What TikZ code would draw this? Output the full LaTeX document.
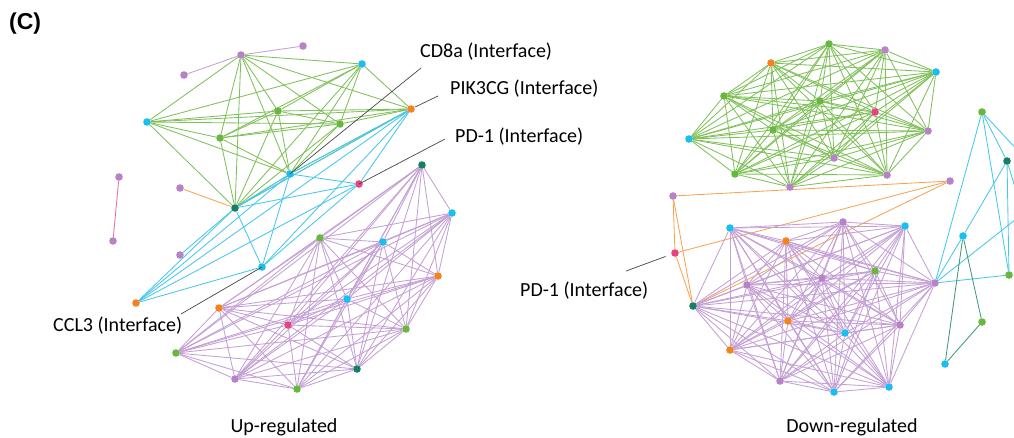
\documentclass[tikz,border=0pt]{standalone}
\usepackage{fontspec}
\setmainfont{Carlito}
\newfontfamily\labelfont{Liberation Sans}
\pgfdeclarelayer{edges}
\pgfsetlayers{edges,main}

\definecolor{npurple}{RGB}{183,130,200}
\definecolor{ncyan}{RGB}{27,190,238}
\definecolor{ngreen}{RGB}{104,183,62}
\definecolor{norange}{RGB}{245,130,30}
\definecolor{npink}{RGB}{232,68,128}
\definecolor{nteal}{RGB}{22,128,100}
\definecolor{egreen}{RGB}{128,192,90}
\definecolor{epurple}{RGB}{196,160,212}
\definecolor{ecyan}{RGB}{70,200,236}
\definecolor{eorange}{RGB}{246,164,84}
\definecolor{epink}{RGB}{236,110,156}
\definecolor{eteal}{RGB}{60,155,125}
\definecolor{leader}{RGB}{70,70,70}

\tikzset{
  dot/.style={circle, fill=#1, draw=none, inner sep=0pt, minimum size=7.6pt},
  link/.style={draw=#1, line width=0.85pt},
  leaderline/.style={draw=leader, line width=0.7pt},
  callout/.style={font=\fontsize{20}{22}\selectfont, text=black, inner sep=0pt, anchor=west},
  caption/.style={font=\fontsize{20}{22}\selectfont, text=black, inner sep=0pt},
}

% every pair in a list joined by one edge
\newcommand\fullmesh[2]{%
  \foreach \a [count=\i] in {#2} {%
    \foreach \b [count=\j] in {#2} {%
      \ifnum\j>\i \draw[link=#1] (\a) -- (\b);\fi
    }%
  }%
}

\begin{document}
\begin{tikzpicture}[x=1pt, y=-1pt]
\useasboundingbox (0,0) rectangle (1014,437);

% ---------------- up-regulated network ----------------
\node[dot=npurple] (lp1) at (241,55) {};
\node[dot=npurple] (lp2) at (303,46) {};
\node[dot=npurple] (lp3) at (184,75) {};
\node[dot=ncyan]   (lc1) at (362,64) {};
\node[dot=ncyan]   (lc2) at (147,122) {};
\node[dot=ngreen]  (lg1) at (278,111) {};
\node[dot=ngreen]  (lg2) at (340,124) {};
\node[dot=ngreen]  (lg3) at (220,138) {};
\node[dot=norange] (lo1) at (411,109) {};
\node[dot=ncyan]   (lcd) at (290,174) {};
\node[dot=npink]   (lpd) at (359,184) {};
\node[dot=nteal]   (lt1) at (235,208) {};
\node[dot=npurple] (lp4) at (180,188) {};
\node[dot=npurple] (lp5) at (119,177) {};
\node[dot=npurple] (lp6) at (113,241) {};
\node[dot=npurple] (lp7) at (180,255) {};
\node[dot=ncyan]   (lcc) at (262,267) {};
\node[dot=norange] (lo2) at (136,303) {};

\node[dot=nteal]   (la1)  at (422,165) {};
\node[dot=ncyan]   (la2)  at (452,213) {};
\node[dot=ngreen]  (la3)  at (320,238) {};
\node[dot=ncyan]   (la4)  at (383,242) {};
\node[dot=norange] (la5)  at (438,276) {};
\node[dot=ncyan]   (la6)  at (347,299) {};
\node[dot=norange] (la7)  at (219,308) {};
\node[dot=npink]   (la8)  at (288,325) {};
\node[dot=ngreen]  (la9)  at (406,329) {};
\node[dot=ngreen]  (la10) at (176,353) {};
\node[dot=nteal]   (la11) at (357,369) {};
\node[dot=npurple] (la12) at (235,379) {};
\node[dot=ngreen]  (la13) at (297,389) {};

\begin{pgfonlayer}{edges}
  \fullmesh{egreen}{lp1,lc1,lc2,lg1,lg2,lg3,lo1,lcd,lt1}
  \draw[link=epurple] (lp3) -- (lp1) -- (lp2);
  \fullmesh{ecyan}{lo1,lcd,lpd,lt1,lcc,lo2}
  \draw[link=ecyan] (lp7) -- (lt1);
  \draw[link=eorange] (lp4) -- (lt1);
  \draw[link=epink] (lp5) -- (lp6);
  \fullmesh{epurple}{la1,la2,la3,la4,la5,la6,la7,la8,la9,la10,la11,la12,la13}
\end{pgfonlayer}

% callouts
\node[callout] (tcd)  at (420,52)  {CD8a (Interface)};
\node[callout] (tpik) at (450,89)  {PIK3CG (Interface)};
\node[callout] (tpd)  at (455,137) {PD-1 (Interface)};
\node[callout] (tccl) at (53,326)  {CCL3 (Interface)};
\coordinate (kcd)  at (421,68);
\coordinate (kpik) at (438,96);
\coordinate (kpd)  at (445,139);
\coordinate (kccl) at (181,314);
\draw[leaderline] (kcd) -- (lcd.center);
\draw[leaderline, shorten >=4.5pt] (kpik) -- (lo1.center);
\draw[leaderline] (kpd) -- (lpd.center);
\draw[leaderline] (kccl) -- (lcc.center);

% ---------------- down-regulated network ----------------
\node[dot=ngreen]  (rg1) at (829,44) {};
\node[dot=npurple] (rp1) at (885,50) {};
\node[dot=norange] (ro1) at (771,63) {};
\node[dot=ncyan]   (rc1) at (936,72) {};
\node[dot=ngreen]  (rg2) at (724,96) {};
\node[dot=ngreen]  (rg3) at (820,101) {};
\node[dot=npink]   (rk1) at (875,112) {};
\node[dot=ngreen]  (rg4) at (773,130) {};
\node[dot=ncyan]   (rc2) at (689,139) {};
\node[dot=npurple] (rp2) at (928,131) {};
\node[dot=npurple] (rp3) at (834,158) {};
\node[dot=ngreen]  (rg5) at (735,174) {};
\node[dot=npurple] (rp4) at (887,175) {};
\node[dot=npurple] (rp5) at (790,187) {};

\node[dot=npurple] (rq1) at (673,196) {};
\node[dot=npurple] (rq2) at (950,181) {};
\node[dot=npink]   (rpd) at (675,253) {};
\node[dot=nteal]   (rt1) at (693,306) {};

\node[dot=ncyan]   (rb1)  at (730,228) {};
\node[dot=npurple] (rb2)  at (843,222) {};
\node[dot=ncyan]   (rb3)  at (905,226) {};
\node[dot=norange] (rb4)  at (786,241) {};
\node[dot=ngreen]  (rb5)  at (875,271) {};
\node[dot=npurple] (rb6)  at (822,278) {};
\node[dot=npurple] (rb7)  at (747,285) {};
\node[dot=npurple] (rb8)  at (935,283) {};
\node[dot=norange] (rb9)  at (788,321) {};
\node[dot=npurple] (rb10) at (900,325) {};
\node[dot=ncyan]   (rb11) at (845,333) {};
\node[dot=norange] (rb12) at (730,350) {};
\node[dot=npurple] (rb13) at (780,381) {};
\node[dot=ncyan]   (rb14) at (889,387) {};
\node[dot=ncyan]   (rb15) at (834,392) {};

\node[dot=ngreen]  (rx1) at (982,112) {};
\node[dot=nteal]   (rx2) at (1007,161) {};
\node[dot=ncyan]   (rx3) at (963,236) {};
\node[dot=ngreen]  (rx4) at (1009,275) {};
\node[dot=ngreen]  (rx5) at (982,322) {};
\node[dot=ncyan]   (rx6) at (945,364) {};
\coordinate (ra) at (1034,168);
\coordinate (rb) at (1034,205);
\coordinate (rc) at (1034,250);

\begin{pgfonlayer}{edges}
  \fullmesh{egreen}{rg1,rp1,ro1,rc1,rg2,rg3,rk1,rg4,rc2,rp2,rp3,rg5,rp4,rp5}
  \fullmesh{eorange}{rq1,rq2,rpd,rt1}
  \fullmesh{epurple}{rt1,rb1,rb2,rb3,rb4,rb5,rb6,rb7,rb8,rb9,rb10,rb11,rb12,rb13,rb14,rb15}
  \draw[link=ecyan] (rx1) -- (rb8);
  \draw[link=ecyan] (rx1) -- (rx2);
  \draw[link=ecyan] (rx1) -- (rx4);
  \draw[link=ecyan] (rx1) -- (ra);
  \draw[link=ecyan] (rx2) -- (rx3);
  \draw[link=ecyan] (rx2) -- (rx4);
  \draw[link=ecyan] (rx2) -- (rc);
  \draw[link=ecyan] (rb8) -- (rx3);
  \draw[link=ecyan] (rb8) -- (rx4);
  \draw[link=ecyan] (rb8) -- (rb);
  \draw[link=eteal] (rx3) -- (rx5);
  \draw[link=eteal] (rx3) -- (rx6);
  \draw[link=eteal] (rx5) -- (rx6);
\end{pgfonlayer}

\node[callout] (trpd) at (520,291) {PD-1 (Interface)};
\coordinate (krpd) at (626,271);
\draw[leaderline, shorten >=10pt] (krpd) -- (rpd.center);

% ---------------- panel captions ----------------
\node[caption] (cup)   at (284,427) {Up-regulated};
\node[caption] (cdown) at (852,427) {Down-regulated};
\node[font=\labelfont\bfseries\fontsize{23}{26}\selectfont, inner sep=0pt, anchor=west] (panel) at (9,24) {(C)};
\end{tikzpicture}
\end{document}
